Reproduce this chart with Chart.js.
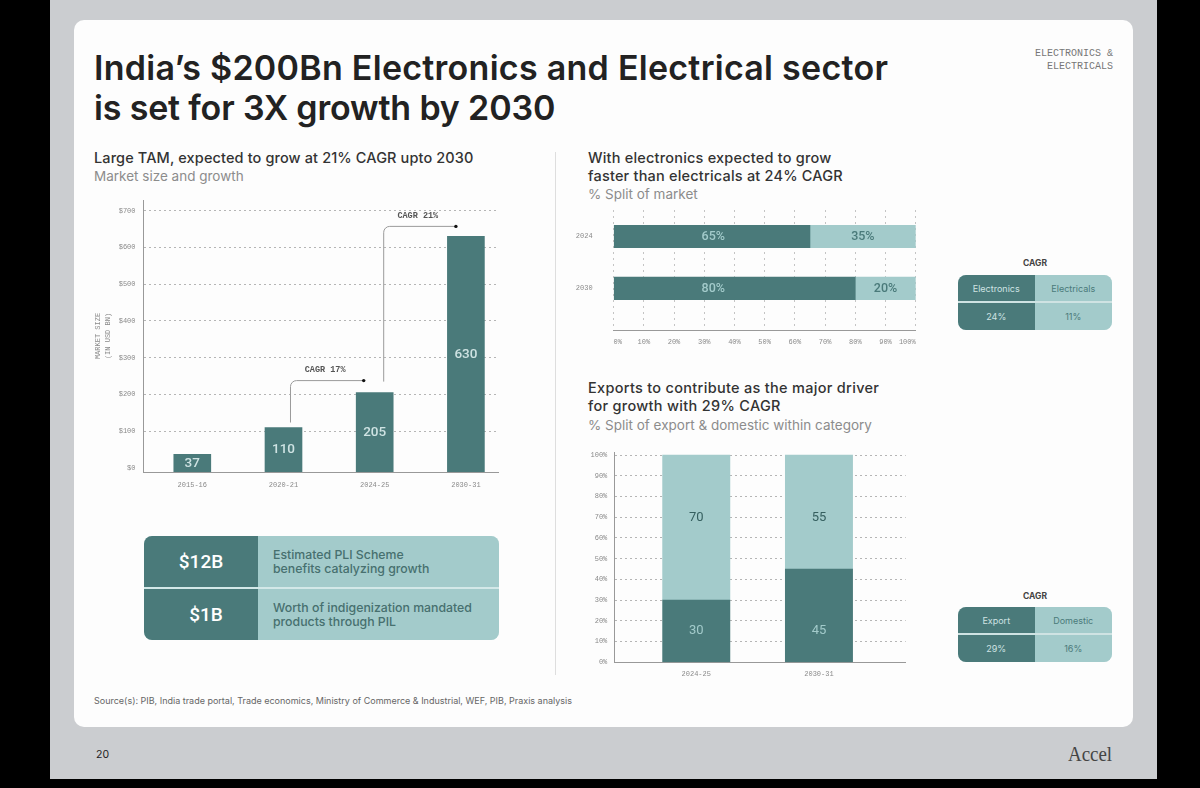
<!DOCTYPE html>
<html>
<head>
<meta charset="utf-8">
<title>India Electronics and Electrical sector</title>
<script src="https://cdn.jsdelivr.net/npm/chart.js@4/dist/chart.umd.min.js"></script>
<style>
	html, body { margin: 0; padding: 0; background: #000; width: 1200px; height: 788px; overflow: hidden; }
	body { font-family: Inter, sans-serif; position: relative; }
	#slide { position: absolute; left: 50px; top: 0; width: 1107px; height: 779px; background: #cbcdd0; }
	#card { position: absolute; left: 74px; top: 20px; width: 1059px; height: 707px; background: #fdfdfd; border-radius: 10px; }
	canvas { position: absolute; }
	.t { position: absolute; white-space: nowrap; }
	.title { left: 94px; font-size: 34px; line-height: 41px; font-weight: 600; color: #222; letter-spacing: 0.27px; }
	.head { font-size: 14.5px; line-height: 18px; font-weight: 500; color: #333; letter-spacing: 0.2px; }
	.sub { font-size: 13.5px; line-height: 18px; color: #8c8c8c; }
	.mono { font-family: "Liberation Mono", monospace; }
	#divider { position: absolute; left: 555px; top: 152px; width: 1px; height: 523px; background: #dedede; }
	.panel { position: absolute; display: grid; overflow: hidden; border-radius: 8px; background: #a3cbcb; }
	.panel div { display: flex; align-items: center; justify-content: center; }
	.dark { background: #4a7a7a; color: #cfe3e3; }
	.light { background: #a3cbcb; color: #4a7a7a; }
	#pli { left: 144px; top: 536px; width: 355px; height: 104px; grid-template-columns: 114px 241px; grid-template-rows: 51px 51px; row-gap: 2px; background: #d3e8e8; }
	#pli .dark { color: #fff; font: 500 19px Roboto, sans-serif; }
	#pli .light { justify-content: flex-start; padding-left: 15px; font-size: 12.3px; line-height: 14px; font-weight: 500; color: #47706f; }
	.cagr { width: 154px; height: 55px; grid-template-columns: 76.5px 77.5px; grid-template-rows: 26px 27px; row-gap: 2px; background: #cfe3e3; font-size: 9px; }
	.cagr-title { font-size: 8.5px; font-weight: 700; color: #444; width: 154px; text-align: center; left: 958px; }
</style>
</head>
<body>
<div id="slide"></div>
<div id="card"></div>

<div class="t title" style="top:47px">India’s $200Bn Electronics and Electrical sector</div>
<div class="t title" style="top:87px;letter-spacing:-0.16px">is set for 3X growth by 2030</div>
<div class="t mono" style="right:87px;top:48px;font-size:10px;line-height:12.5px;color:#777;text-align:right">ELECTRONICS &amp;<br>ELECTRICALS</div>

<div class="t head" style="left:94px;top:149px;letter-spacing:0.12px">Large TAM, expected to grow at 21% CAGR upto 2030</div>
<div class="t sub" style="left:94px;top:167px">Market size and growth</div>
<div id="divider"></div>
<div class="t head" style="left:588px;top:149px">With electronics expected to grow<br>faster than electricals at 24% CAGR</div>
<div class="t sub" style="left:588px;top:185px">% Split of market</div>
<div class="t head" style="left:588px;top:379px;letter-spacing:0.3px">Exports to contribute as the major driver<br>for growth with 29% CAGR</div>
<div class="t sub" style="left:588px;top:416px">% Split of export &amp; domestic within category</div>

<canvas id="market"></canvas>
<canvas id="split"></canvas>
<canvas id="exports"></canvas>

<div class="panel" id="pli">
	<div class="dark">$12B</div><div class="light">Estimated PLI Scheme<br>benefits catalyzing growth</div>
	<div class="dark" style="padding-left:10px">$1B</div><div class="light">Worth of indigenization mandated<br>products through PIL</div>
</div>

<div class="t cagr-title" style="top:258px">CAGR</div>
<div class="panel cagr" style="left:958px;top:275px">
	<div class="dark">Electronics</div><div class="light">Electricals</div>
	<div class="dark">24%</div><div class="light">11%</div>
</div>
<div class="t cagr-title" style="top:591px">CAGR</div>
<div class="panel cagr" style="left:958px;top:607px">
	<div class="dark">Export</div><div class="light">Domestic</div>
	<div class="dark">29%</div><div class="light">16%</div>
</div>

<div class="t" style="left:94px;top:695px;font-size:9px;color:#666">Source(s): PIB, India trade portal, Trade economics, Ministry of Commerce &amp; Industrial, WEF, PIB, Praxis analysis</div>
<div class="t" style="left:96px;top:748px;font-size:10.5px;color:#222">20</div>
<div class="t" style="left:1068px;top:741px;font:22px 'Liberation Serif',serif;color:#444;transform:scaleX(.86);transform-origin:left">Accel</div>

<script>
const marketCategories = ["2015-16", "2020-21", "2024-25", "2030-31"];
const marketValues = [37, 110, 205, 630];
const marketTicks = [0, 100, 200, 300, 400, 500, 600, 700];
const marketLinks = [
	{ from: 1, to: 2, label: "CAGR 17%" },
	{ from: 2, to: 3, label: "CAGR 21%" },
];

const splitCategories = ["2024", "2030"];
const electronicsShare = [65, 80];
const electricalsShare = [35, 20];
const splitTicks = [0, 10, 20, 30, 40, 50, 60, 70, 80, 90, 100];

const exportCategories = ["2024-25", "2030-31"];
const exportShare = [30, 45];
const domesticShare = [70, 55];
const exportTicks = [0, 10, 20, 30, 40, 50, 60, 70, 80, 90, 100];

const DARK = "#4a7a7a";
const LIGHT = "#a3cbcb";
const TICK_FONT = { family: "'Liberation Mono', monospace", size: 7 };
const TICK_COLOR = "#8a8a8a";
const GRID_COLOR = "#b5b5b5";
const AXIS_COLOR = "#999";
const GRID_DASH = [2, 3];

Chart.defaults.animation = false;
Chart.defaults.responsive = false;
Chart.defaults.plugins.legend.display = false;
Chart.defaults.plugins.tooltip.enabled = false;

// writes each bar's value on it, at dataset.labelValue if one is set
const barLabels = {
	id: "barLabels",
	afterDatasetsDraw(chart) {
		const { ctx } = chart;
		const horizontal = chart.options.indexAxis === "y";
		chart.data.datasets.forEach((dataset, d) => {
			chart.getDatasetMeta(d).data.forEach((bar, i) => {
				const point = bar.getCenterPoint();
				let x = point.x;
				let y = point.y;
				if (dataset.labelValue !== undefined) {
					if (horizontal) x = chart.scales.x.getPixelForValue(dataset.labelValue);
					else y = chart.scales.y.getPixelForValue(dataset.labelValue);
				}
				const raw = dataset.values[i];
				ctx.save();
				ctx.font = dataset.labelFont;
				ctx.fillStyle = dataset.labelColor;
				ctx.textAlign = "center";
				ctx.textBaseline = "middle";
				ctx.fillText(raw + (dataset.labelSuffix || ""), x, y);
				ctx.restore();
			});
		});
	},
};

// CAGR connector between two bars: up from one, across to a dot before the next
const cagrLinks = {
	id: "cagrLinks",
	afterDatasetsDraw(chart) {
		const { ctx } = chart;
		const bars = chart.getDatasetMeta(0).data;
		marketLinks.forEach((link, i) => {
			const a = bars[link.from];
			const b = bars[link.to];
			const startX = a.x + (i === 0 ? 7 : 9);
			const startY = a.y - (i === 0 ? 5 : 11);
			const endX = b.x - (i === 0 ? 11 : 10);
			const topY = b.y - (i === 0 ? 12 : 10);
			ctx.save();
			ctx.strokeStyle = "#9a9a9a";
			ctx.lineWidth = 1;
			ctx.beginPath();
			ctx.moveTo(startX, startY);
			ctx.arcTo(startX, topY, endX, topY, 6);
			ctx.lineTo(endX, topY);
			ctx.stroke();
			ctx.fillStyle = "#111";
			ctx.beginPath();
			ctx.arc(endX, topY, 1.7, 0, Math.PI * 2);
			ctx.fill();
			ctx.fillStyle = "#555";
			ctx.font = "bold 8.5px 'Liberation Mono', monospace";
			ctx.textAlign = "center";
			ctx.textBaseline = "middle";
			ctx.fillText(link.label, (startX + endX) / 2 - 2, topY - 11);
			ctx.restore();
		});
	},
};

function place(canvas, left, top, width, height) {
	canvas.width = width;
	canvas.height = height;
	canvas.style.left = left + "px";
	canvas.style.top = top + "px";
	canvas.style.width = width + "px";
	canvas.style.height = height + "px";
}

function setTicks(values) {
	return (axis) => {
		axis.ticks = values.map((value) => ({ value }));
	};
}

// pins an axis to a fixed size so the plot area lands where it should
function fixAxis(size) {
	return (axis) => {
		if (axis.isHorizontal()) axis.height = size;
		else axis.width = size;
		axis.paddingTop = 0;
		axis.paddingBottom = 0;
		axis.paddingLeft = 0;
		axis.paddingRight = 0;
	};
}

function indexPoints(values, horizontal) {
	return values.map((v, i) => (horizontal ? { x: v, y: i } : { x: i, y: v }));
}

// market size bars
const marketCanvas = document.getElementById("market");
place(marketCanvas, 80, 195, 420, 300);
new Chart(marketCanvas, {
	type: "bar",
	plugins: [barLabels, cagrLinks],
	data: {
		datasets: [
			{
				data: indexPoints(marketValues),
				values: marketValues,
				base: -11,
				backgroundColor: DARK,
				barThickness: 37,
				labelFont: "500 13.5px Roboto, sans-serif",
				labelColor: "#cfe3e3",
			},
		],
	},
	options: {
		layout: { padding: { top: 5, right: 2 } },
		scales: {
			x: {
				type: "linear",
				offset: false,
				min: -0.535,
				max: 3.352,
				afterBuildTicks: setTicks(marketCategories.map((_, i) => i)),
				afterFit: fixAxis(23),
				grid: { display: false },
				border: { color: AXIS_COLOR },
				ticks: {
					autoSkip: false,
					maxRotation: 0,
					padding: 1,
					font: TICK_FONT,
					color: TICK_COLOR,
					callback: (value) => marketCategories[value],
				},
			},
			y: {
				min: -11,
				max: 729,
				afterBuildTicks: setTicks(marketTicks),
				afterFit: fixAxis(63.5),
				grid: {
					drawTicks: false,
					color: (c) => (c.tick && c.tick.value === 0 ? "transparent" : GRID_COLOR),
				},
				border: { dash: GRID_DASH, color: AXIS_COLOR },
				title: {
					display: true,
					text: ["MARKET SIZE", "(IN USD BN)"],
					font: { family: "'Liberation Mono', monospace", size: 7, lineHeight: 1.3 },
					color: TICK_COLOR,
					padding: { top: 14, bottom: 0 },
				},
				ticks: {
					padding: 8,
					font: TICK_FONT,
					color: TICK_COLOR,
					callback: (value) => "$" + value,
				},
			},
		},
	},
});

// electronics vs electricals split, horizontal
const splitCanvas = document.getElementById("split");
place(splitCanvas, 570, 205, 350, 150);
new Chart(splitCanvas, {
	type: "bar",
	plugins: [barLabels],
	data: {
		datasets: [
			{
				data: indexPoints(electronicsShare, true),
				values: electronicsShare,
				backgroundColor: DARK,
				barThickness: 22.5,
				labelValue: 33,
				labelSuffix: "%",
				labelFont: "500 12.5px Roboto, sans-serif",
				labelColor: LIGHT,
			},
			{
				data: indexPoints(electricalsShare, true),
				values: electricalsShare,
				backgroundColor: LIGHT,
				barThickness: 22.5,
				labelSuffix: "%",
				labelFont: "500 12.5px Roboto, sans-serif",
				labelColor: DARK,
			},
		],
	},
	options: {
		indexAxis: "y",
		layout: { padding: { top: 5, right: 4.3 } },
		scales: {
			x: {
				stacked: true,
				min: 0,
				max: 100,
				afterBuildTicks: setTicks(splitTicks),
				afterFit: fixAxis(25),
				grid: { drawTicks: false, color: "#c4c4c4" },
				border: { dash: [2, 4], color: AXIS_COLOR },
				ticks: {
					autoSkip: false,
					maxRotation: 0,
					align: "inner",
					padding: 8,
					font: TICK_FONT,
					color: TICK_COLOR,
					callback: (value) => value + "%",
				},
			},
			y: {
				type: "linear",
				offset: false,
				stacked: true,
				reverse: true,
				min: -0.51,
				max: 1.8,
				afterBuildTicks: setTicks(splitCategories.map((_, i) => i)),
				afterFit: fixAxis(43.6),
				grid: { display: false },
				border: { display: false },
				ticks: {
					padding: 13,
					font: TICK_FONT,
					color: TICK_COLOR,
					callback: (value) => splitCategories[value],
				},
			},
		},
	},
});

// export vs domestic split, stacked columns
const exportsCanvas = document.getElementById("exports");
place(exportsCanvas, 570, 447, 340, 240);
new Chart(exportsCanvas, {
	type: "bar",
	plugins: [barLabels],
	data: {
		datasets: [
			{
				data: indexPoints(exportShare),
				values: exportShare,
				backgroundColor: DARK,
				barThickness: 67.3,
				labelValue: 15,
				labelFont: "400 13px Roboto, sans-serif",
				labelColor: LIGHT,
			},
			{
				data: indexPoints(domesticShare),
				values: domesticShare,
				backgroundColor: LIGHT,
				barThickness: 67.3,
				labelValue: 70,
				labelFont: "400 13px Roboto, sans-serif",
				labelColor: "#355f5f",
			},
		],
	},
	options: {
		layout: { padding: { top: 5, right: 4.3 } },
		scales: {
			x: {
				type: "linear",
				offset: false,
				stacked: true,
				min: -0.668,
				max: 1.707,
				afterBuildTicks: setTicks(exportCategories.map((_, i) => i)),
				afterFit: fixAxis(24.7),
				grid: { display: false },
				border: { color: AXIS_COLOR },
				ticks: {
					autoSkip: false,
					maxRotation: 0,
					padding: 0,
					font: TICK_FONT,
					color: TICK_COLOR,
					callback: (value) => exportCategories[value],
				},
			},
			y: {
				stacked: true,
				min: 0,
				max: 101.5,
				afterBuildTicks: setTicks(exportTicks),
				afterFit: fixAxis(44.3),
				grid: {
					drawTicks: false,
					color: (c) => (c.tick && c.tick.value === 0 ? "transparent" : GRID_COLOR),
				},
				border: { dash: GRID_DASH, color: AXIS_COLOR },
				ticks: {
					padding: 7,
					font: TICK_FONT,
					color: TICK_COLOR,
					callback: (value) => value + "%",
				},
			},
		},
	},
});
</script>
</body>
</html>
